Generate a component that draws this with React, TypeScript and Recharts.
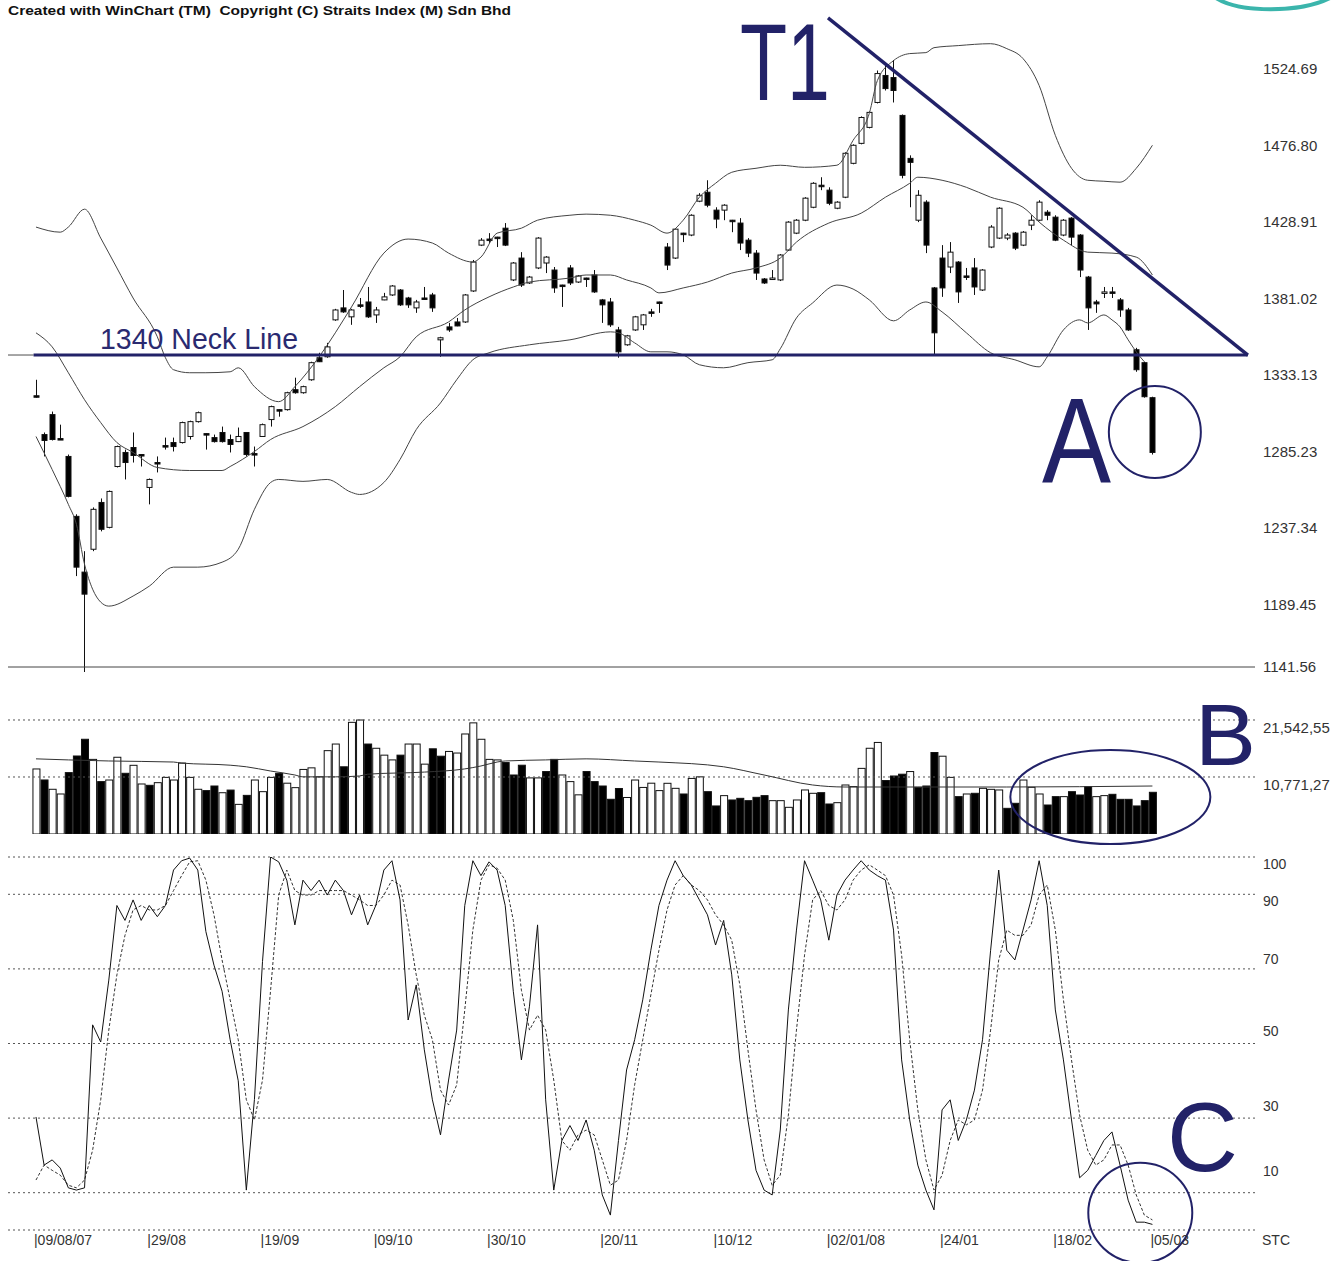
import React from 'react';
import { ComposedChart, Bar, Line, XAxis, YAxis, ReferenceLine, ReferenceDot } from 'recharts';

// ---------- DATA ----------
const opens = [1314.5,1290.2,1302.7,1287.7,1276.5,1239.0,1204.1,1218.4,1247.7,1232.1,1270.2,1279.0,1282.1,1277.7,1257.1,1272.7,1283.3,1285.2,1285.2,1289.0,1298.3,1290.8,1288.3,1291.5,1287.1,1285.8,1291.5,1278.3,1289.0,1299.6,1305.8,1305.8,1318.3,1316.4,1324.5,1338.3,1338.9,1362.0,1369.5,1363.9,1371.4,1373.2,1365.1,1374.5,1377.6,1380.7,1375.7,1369.5,1375.7,1377.6,1349.5,1357.6,1360.7,1360.7,1380.1,1408.8,1412.6,1413.8,1419.4,1387.0,1400.7,1385.1,1394.5,1397.6,1393.2,1383.8,1394.5,1385.7,1388.2,1390.1,1374.5,1373.2,1355.7,1346.4,1355.7,1358.9,1367.0,1373.2,1407.6,1400.7,1416.3,1415.1,1436.3,1441.9,1430.7,1430.7,1424.4,1422.6,1411.9,1403.8,1387.6,1387.6,1387.0,1405.7,1416.3,1424.4,1432.5,1446.3,1443.2,1431.9,1438.8,1460.0,1472.5,1482.5,1498.1,1515.0,1513.7,1490.0,1463.1,1424.4,1435.7,1382.0,1400.7,1395.1,1398.2,1389.5,1394.5,1380.7,1407.6,1413.2,1413.2,1416.3,1408.8,1421.3,1424.4,1429.4,1426.3,1415.1,1425.7,1415.1,1388.8,1373.2,1378.9,1379.5,1374.5,1368.2,1343.3,1335.2,1313.3];
const highs = [1324.5,1291.5,1304.6,1296.4,1277.7,1240.3,1217.2,1244.6,1250.2,1255.2,1283.3,1280.8,1291.5,1277.9,1262.7,1276.5,1288.3,1288.3,1298.3,1298.9,1304.6,1291.0,1290.2,1295.2,1290.2,1294.6,1291.7,1282.7,1297.1,1308.3,1306.0,1317.0,1325.8,1320.8,1335.8,1341.4,1347.6,1368.9,1380.7,1368.9,1375.7,1382.6,1370.1,1378.9,1383.8,1381.3,1376.4,1374.5,1382.6,1378.9,1351.4,1360.1,1363.2,1378.2,1399.5,1413.2,1416.3,1414.0,1422.6,1398.2,1404.4,1389.5,1413.8,1401.9,1395.1,1384.0,1396.3,1390.1,1388.4,1393.2,1375.1,1375.7,1357.6,1352.6,1364.5,1365.7,1368.9,1373.4,1410.1,1419.4,1416.5,1428.1,1441.3,1449.4,1432.5,1434.4,1424.6,1425.7,1413.2,1405.7,1388.2,1393.2,1403.2,1423.8,1425.1,1438.8,1448.2,1451.3,1445.0,1436.3,1466.9,1471.9,1489.4,1492.5,1518.1,1521.2,1524.69,1490.6,1465.0,1443.2,1436.9,1382.6,1408.8,1410.7,1398.8,1394.5,1400.7,1393.8,1421.3,1432.5,1416.3,1416.9,1417.6,1427.5,1436.9,1430.7,1427.5,1425.1,1426.3,1415.7,1389.5,1374.5,1382.6,1382.6,1375.7,1369.5,1344.5,1335.8,1313.9];
const lows = [1313.3,1276.5,1286.5,1286.8,1250.9,1201.6,1141.56,1217.2,1229.6,1231.5,1269.6,1262.1,1272.7,1270.2,1246.5,1266.5,1280.8,1279.6,1284.6,1287.1,1297.7,1280.8,1285.2,1285.2,1279.0,1285.5,1276.5,1270.2,1288.8,1295.2,1301.4,1305.2,1315.8,1315.8,1323.9,1335.6,1338.3,1361.4,1366.4,1358.9,1369.5,1363.2,1360.1,1374.3,1377.0,1370.7,1369.5,1366.4,1374.9,1367.0,1338.9,1354.5,1358.0,1360.1,1379.5,1408.2,1410.1,1407.6,1408.2,1386.3,1382.6,1384.5,1393.8,1391.3,1378.9,1370.1,1383.8,1385.1,1382.6,1378.9,1360.1,1357.6,1338.3,1345.8,1355.1,1355.7,1363.9,1366.4,1393.2,1400.1,1410.7,1414.4,1435.7,1432.5,1419.4,1424.4,1416.9,1405.7,1401.3,1387.0,1384.5,1387.0,1386.3,1405.1,1415.7,1423.8,1431.9,1443.2,1433.8,1431.3,1438.2,1459.4,1471.9,1481.9,1497.5,1505.6,1498.1,1450.6,1432.5,1423.2,1403.8,1340.1,1376.4,1391.3,1372.6,1387.0,1377.6,1380.1,1406.9,1412.6,1411.9,1405.7,1408.2,1418.2,1423.8,1424.4,1411.3,1414.4,1408.8,1388.8,1355.7,1366.4,1375.7,1375.7,1363.9,1355.1,1329.5,1313.3,1277.7];
const closes = [1313.9,1286.5,1287.1,1287.1,1251.5,1207.2,1190.3,1243.4,1230.9,1254.6,1282.7,1272.7,1277.1,1277.1,1262.1,1272.1,1282.7,1282.7,1297.7,1298.3,1303.9,1290.2,1285.8,1285.8,1284.0,1289.0,1277.7,1277.7,1296.4,1307.7,1305.2,1316.4,1316.4,1320.2,1335.2,1335.8,1345.1,1368.2,1367.0,1368.2,1371.0,1363.9,1368.2,1376.4,1383.2,1371.4,1371.4,1373.2,1375.1,1369.5,1350.8,1355.7,1358.2,1377.6,1398.2,1411.9,1411.9,1413.2,1408.8,1397.6,1383.8,1388.8,1413.2,1401.3,1382.0,1383.2,1385.1,1389.5,1387.6,1379.5,1371.4,1358.9,1342.0,1352.0,1363.9,1365.1,1366.4,1372.6,1396.3,1418.8,1415.7,1427.5,1440.0,1433.8,1425.1,1433.8,1423.8,1410.1,1403.8,1391.3,1385.1,1388.2,1402.6,1423.2,1424.4,1438.2,1447.5,1445.7,1435.0,1435.7,1466.3,1471.3,1488.7,1491.9,1516.2,1506.8,1505.6,1452.5,1460.6,1440.0,1408.8,1353.9,1382.0,1404.4,1379.5,1388.8,1382.6,1393.2,1420.1,1431.9,1415.1,1406.9,1416.9,1424.4,1435.7,1427.5,1411.9,1424.4,1413.8,1393.2,1369.5,1372.0,1379.5,1378.9,1368.2,1355.7,1330.8,1313.9,1279.0];

const volumes = [12290,10210,8450,7560,11600,14740,17900,14100,9900,10200,14500,11470,12980,9450,9200,9700,10700,10200,13400,10700,8450,8200,9070,7800,8300,5600,7300,10200,8000,10700,11470,9600,8760,12200,12500,10800,15750,17000,12700,21100,21540,17000,16200,14900,14000,14900,17000,17000,13200,16100,14700,15600,15300,18900,21000,17900,14100,14000,13500,11150,13000,10600,10600,11800,14100,11150,9900,7400,11800,9900,9070,6560,8600,6900,10200,8800,9600,8200,9580,8630,7560,10500,10800,8000,5300,7250,6430,6740,6300,6930,7250,6300,6300,5040,6430,8320,7690,7810,5670,5920,9260,8950,12400,16200,17300,10100,10960,11300,11800,8820,9070,15400,14700,10700,7060,7560,7690,8630,8440,8320,4850,5800,10200,8820,7560,5480,7060,7060,8000,7370,8950,7060,7250,7500,6550,6550,5300,6300,7880];

const stochK = [30.3,17.4,18.8,16.6,11.3,10.7,11.3,55,50.4,67,87,83,88.5,83,87,84,87,96.5,99,99.7,96.5,80,71,64,51,40,10.7,35,72,100,98.7,93.8,81.8,93.8,91,93.8,89.8,93.8,91,84.5,89.8,81.8,87,96.5,99,88.5,56.3,65.7,48.3,34.9,25.5,40.2,53.6,87,99,95,98.7,96.5,87,64,45.6,60,81.8,34.9,10.7,24,28,24,29.5,21.4,9.4,4,24,42.9,51,61.7,75,87,93.8,99,95,92.5,88.5,84.5,76.4,83,68.4,45.6,29.5,16,10.7,9.4,26.8,59,80.4,99,93.8,88.5,77.7,89.8,93.8,96.5,99,96.5,95,93.8,80.4,45.6,29.5,17.4,10.7,5.4,32.2,34.9,24,29.5,37.5,51,75,96.5,75,72.4,80.4,88.5,99,87,59,45.6,29.5,14,16,20,24,26.3,17.4,8,2.1,2.1,1.5];
const stochD = [13.4,17.4,16,14.7,12,11.3,13.4,21.4,34.9,53.6,68.4,79,85.8,87,85.8,85.8,87,91,95,98.7,99,93.8,84.5,72.4,61.7,51,34.9,29.5,40.2,64.3,89.8,96.5,91,89.8,89.8,91,91,91,91,89.8,88.5,87,87,89.8,93.8,92.5,81.8,68.4,57.6,51,37.5,33.5,38.9,59,80.4,93.8,97.9,97,93.8,83,64.3,53.6,57.6,53.6,40.2,24,21.4,25.5,26.8,25.5,18.8,12,13.4,24,38.9,51,63,75,85.8,92.5,95,92.5,91,88.5,84.5,81.8,77.7,65.7,48.3,32.2,18.8,12,14.7,30.8,53.6,73.7,88.5,91,87,85.8,88.5,93.8,96.5,97.9,96.5,95,89.8,73.7,51,32.2,18.8,10.7,14.7,24,29.5,28.2,29.5,37.5,53.6,72.4,80.4,79,79,81.8,89.8,92.5,80.4,61.7,45.6,30.8,21.4,17.4,18.8,22.8,22.8,17.4,9.4,4,2.7];

const upperBand: [number, number][] = [[0,1420.1],[3,1416.9],[4,1420.1],[6,1431.3],[8,1413.2],[10,1394.5],[12,1375.7],[15,1351.4],[16,1338.3],[17,1330.8],[19,1328.9],[21,1328.9],[24,1329.5],[25,1332.0],[27,1320.2],[30,1310.8],[32,1320.2],[35,1338.9],[39,1370.1],[43,1403.8],[46,1412.6],[49,1410.1],[51,1403.8],[54,1398.2],[55,1401.3],[57,1416.3],[60,1419.4],[62,1424.4],[66,1427.5],[68,1428.2],[71,1427.5],[74,1424.4],[76,1421.3],[78,1416.3],[80,1424.4],[82,1438.8],[84,1447.5],[86,1454.4],[89,1456.9],[92,1458.8],[95,1457.5],[99,1458.8],[101,1474.4],[103,1491.2],[104,1511.8],[106,1524.3],[108,1528.7],[110,1529.3],[111,1532.4],[114,1533.7],[118,1534.9],[120,1531.8],[122,1525.6],[124,1508.7],[126,1477.5],[128,1456.9],[130,1449.4],[132,1448.8],[134,1448.2],[136,1456.9],[138,1471.3]];
const midBand: [number, number][] = [[0,1353.9],[2,1345.1],[4,1328.9],[6,1312.0],[8,1297.7],[10,1285.2],[12,1279.0],[15,1269.6],[19,1267.7],[23,1267.7],[24,1270.2],[27,1279.6],[29,1287.1],[33,1295.2],[37,1307.7],[40,1320.2],[43,1332.0],[45,1338.9],[47,1351.4],[51,1360.7],[53,1368.2],[56,1376.4],[59,1382.6],[61,1385.7],[66,1388.2],[68,1390.1],[71,1390.1],[73,1387.0],[76,1382.0],[77,1378.9],[80,1382.0],[83,1385.7],[86,1391.3],[89,1394.5],[92,1400.7],[94,1410.7],[98,1422.6],[102,1428.8],[105,1438.8],[108,1447.5],[109,1451.3],[112,1449.4],[115,1445.0],[118,1438.8],[122,1432.5],[124,1423.2],[127,1411.9],[130,1404.4],[133,1403.8],[136,1401.3],[138,1390.1]];
const lowerBand: [number, number][] = [[0,1289.0],[2,1268.3],[4,1246.5],[5,1234.0],[6,1209.0],[7,1193.4],[8,1185.3],[9,1182.8],[12,1189.1],[14,1195.3],[17,1207.2],[20,1207.2],[23,1210.3],[25,1218.4],[27,1243.4],[29,1260.2],[30,1262.1],[33,1260.9],[36,1262.1],[39,1254.0],[40,1252.7],[43,1260.2],[45,1274.6],[47,1293.3],[50,1310.0],[52,1324.5],[54,1337.0],[56,1341.4],[61,1346.4],[66,1349.5],[71,1354.5],[72,1353.9],[74,1347.6],[76,1342.0],[78,1342.0],[80,1340.1],[82,1333.9],[85,1332.0],[88,1335.2],[91,1337.0],[92,1343.9],[94,1363.2],[96,1372.6],[99,1383.8],[101,1381.3],[103,1374.5],[106,1361.4],[108,1368.2],[110,1373.2],[112,1367.0],[115,1353.9],[118,1341.4],[121,1337.0],[124,1332.6],[125,1338.9],[127,1355.7],[129,1362.0],[130,1360.1],[132,1365.1],[133,1362.0],[134,1357.6],[135,1349.5],[136,1342.0],[137,1335.8]];
const volumeMA: [number, number][] = [[0,14200],[4,14000],[9,13800],[17,13600],[18,13400],[24,13000],[26,12700],[29,11900],[32,11150],[33,10800],[37,10800],[40,10960],[41,11300],[48,11700],[53,12300],[55,12850],[57,13600],[58,13800],[63,14000],[68,14200],[74,13800],[77,13600],[85,12700],[90,11150],[96,9260],[100,8880],[109,8880],[120,8880],[138,9070]];

const dateTickIdx = [0,14,28,42,56,70,84,98,112,126,138];
const dateTickLabels = ['09/08/07','29/08','19/09','09/10','30/10','20/11','10/12','02/01/08','24/01','18/02','05/03'];
const priceTicks = [1141.56,1189.45,1237.34,1285.23,1333.13,1381.02,1428.91,1476.80,1524.69];
const priceTickLabels = ['1141.56','1189.45','1237.34','1285.23','1333.13','1381.02','1428.91','1476.80','1524.69'];
const volTicks = [10771.27,21542.55];
const volTickLabels = ['10,771,27','21,542,55'];
const stochTicks = [10,30,50,70,90,100];
const stochGrid = [0,10,30,50,70,90,100];
const neckLevel = 1340;

// ---------- BUILD ROWS ----------
const upMap = new Map(upperBand);
const midMap = new Map(midBand);
const loMap = new Map(lowerBand);
const maMap = new Map(volumeMA);

const priceRows = opens.map((o, i) => ({
  i, o, h: highs[i], l: lows[i], c: closes[i],
  upper: upMap.has(i) ? upMap.get(i) : null,
  mid: midMap.has(i) ? midMap.get(i) : null,
  lower: loMap.has(i) ? loMap.get(i) : null,
}));
const volRows = volumes.map((v, i) => ({
  i, v, down: i > 0 && closes[i] < closes[i - 1],
  ma: maMap.has(i) ? maMap.get(i) : null,
}));
const stochRows = stochK.map((k, i) => ({ i, k, d: stochD[i] }));

// ---------- STYLE ----------
const X_DOMAIN: [number, number] = [-3.46, 150.68];
const FONT = "'Liberation Sans Narrow', 'Liberation Sans', Arial, sans-serif";
const SANS = "'Liberation Sans', Arial, sans-serif";
const NAVY = '#222268';
const LBL = '#333';

function Candle(props: any) {
  const { x, y, width, height, payload } = props;
  if (x == null || y == null || !payload) return null;
  const top = Math.min(y, y + height);
  const bot = Math.max(y, y + height);
  const { o, h, l, c } = payload;
  const k = (bot - top) / (h - l || 1);
  const yO = top + (h - o) * k;
  const yC = top + (h - c) * k;
  const cx = Math.round(x + width / 2) + 0.5;
  const bTop = Math.min(yO, yC);
  const bH = Math.max(Math.abs(yC - yO), 1.5);
  const down = c < o;
  return (
    <g>
      <line x1={cx} x2={cx} y1={top} y2={bot} stroke="#111" strokeWidth={1} />
      <rect x={cx - 2.5} y={bTop} width={5} height={bH} fill={down ? '#000' : '#fff'} stroke="#111" strokeWidth={1} />
    </g>
  );
}

function VolBar(props: any) {
  const { x, y, width, height, payload } = props;
  if (x == null || y == null || !payload) return null;
  return <rect x={x} y={y} width={width} height={height} fill={payload.down ? '#000' : '#fff'} stroke="#111" strokeWidth={1} />;
}

const PriceTick = (p: any) => {
  const v = p.payload.value;
  const idx = priceTicks.indexOf(v);
  const dy = idx === 0 ? -5 : 9;
  return <text x={p.x} y={p.y + dy} dy="0.35em" textAnchor="start" fontSize={15} fontFamily={FONT} fill={LBL}>{priceTickLabels[idx]}</text>;
};
const VolTick = (p: any) => {
  const idx = volTicks.indexOf(p.payload.value);
  return <text x={p.x} y={p.y + 8} dy="0.35em" textAnchor="start" fontSize={15} fontFamily={FONT} fill={LBL}>{volTickLabels[idx]}</text>;
};
const stochDy: Record<number, number> = { 100: 7, 90: 7, 70: -10, 50: -12, 30: -12, 10: -22 };
const StochTick = (p: any) => {
  const v = p.payload.value;
  return <text x={p.x} y={p.y + (stochDy[v] || 0)} dy="0.35em" textAnchor="start" fontSize={14} fontFamily={FONT} fill={LBL}>{String(v)}</text>;
};
const DateTick = (p: any) => {
  const idx = dateTickIdx.indexOf(p.payload.value);
  return <text x={p.x - 2} y={p.y} dy={15} textAnchor="start" fontSize={14} fontFamily={FONT} fill={LBL}>{'|' + dateTickLabels[idx]}</text>;
};

const ellipseShape = (rx: number, ry: number) => (p: any) =>
  <ellipse cx={p.cx} cy={p.cy} rx={rx} ry={ry} fill="none" stroke={NAVY} strokeWidth={2} />;

export default function App() {
  return (
    <div style={{ position: 'absolute', left: 0, top: 0, width: 1335, height: 1261, background: '#fff', overflow: 'hidden' }}>
      {/* PRICE PANEL */}
      <div style={{ position: 'absolute', left: 0, top: 0 }}>
        <ComposedChart width={1335} height={690} data={priceRows} margin={{ top: 10, right: 0, bottom: 18, left: 8 }}>
          <XAxis type="number" dataKey="i" domain={X_DOMAIN} allowDataOverflow hide />
          <YAxis orientation="right" width={80} domain={[1141.56, 1555.99]} allowDataOverflow ticks={priceTicks} interval={0}
            axisLine={false} tickLine={false} tickSize={6} tickMargin={2} tick={PriceTick} />
          <ReferenceLine y={1144.69} stroke="#444" strokeWidth={1} />
          <Line dataKey="upper" type="monotone" connectNulls stroke="#444" strokeWidth={1} dot={false} activeDot={false} isAnimationActive={false} />
          <Line dataKey="mid" type="monotone" connectNulls stroke="#444" strokeWidth={1} dot={false} activeDot={false} isAnimationActive={false} />
          <Line dataKey="lower" type="monotone" connectNulls stroke="#444" strokeWidth={1} dot={false} activeDot={false} isAnimationActive={false} />
          <Bar dataKey={(d: any) => [d.l, d.h]} barSize={6} shape={Candle} isAnimationActive={false} />
          <ReferenceLine segment={[{ x: -3.46, y: neckLevel }, { x: -0.3, y: neckLevel }]} stroke="#888" strokeWidth={1.5} ifOverflow="visible" />
          <ReferenceLine segment={[{ x: -0.3, y: neckLevel }, { x: 149.8, y: neckLevel }]} stroke={NAVY} strokeWidth={3} ifOverflow="visible" />
          <ReferenceLine segment={[{ x: 97.9, y: 1551 }, { x: 149.8, y: neckLevel }]} stroke={NAVY} strokeWidth={3.5} ifOverflow="visible" />
          <ReferenceDot x={138.3} y={1291.8} r={46} ifOverflow="visible" shape={ellipseShape(46, 46)} />
        </ComposedChart>
      </div>

      {/* VOLUME PANEL */}
      <div style={{ position: 'absolute', left: 0, top: 690 }}>
        <ComposedChart width={1335} height={160} data={volRows} margin={{ top: 10, right: 0, bottom: 16, left: 8 }}>
          <XAxis type="number" dataKey="i" domain={X_DOMAIN} allowDataOverflow hide />
          <YAxis orientation="right" width={80} domain={[0, 25321]} allowDataOverflow ticks={volTicks} interval={0}
            axisLine={false} tickLine={false} tickSize={6} tickMargin={2} tick={VolTick} />
          {volTicks.map((t) => (
            <ReferenceLine key={t} y={t} stroke="#555" strokeDasharray="2 3" strokeWidth={1} />
          ))}
          <Bar dataKey="v" barSize={7} shape={VolBar} isAnimationActive={false} />
          <Line dataKey="ma" type="monotone" connectNulls stroke="#333" strokeWidth={1} dot={false} activeDot={false} isAnimationActive={false} />
          <ReferenceDot x={132.8} y={6992} r={48} ifOverflow="visible" shape={ellipseShape(100, 47)} />
        </ComposedChart>
      </div>

      {/* STOCHASTIC PANEL */}
      <div style={{ position: 'absolute', left: 0, top: 845 }}>
        <ComposedChart width={1335} height={416} data={stochRows} margin={{ top: 12, right: 0, bottom: 11, left: 8 }}>
          <XAxis type="number" dataKey="i" domain={X_DOMAIN} allowDataOverflow ticks={dateTickIdx} interval={0}
            axisLine={false} tickLine={false} tickSize={0} tickMargin={0} height={20} tick={DateTick} />
          <YAxis orientation="right" width={80} domain={[0, 100]} allowDataOverflow ticks={stochTicks} interval={0}
            axisLine={false} tickLine={false} tickSize={6} tickMargin={2} tick={StochTick} />
          {stochGrid.map((t) => (
            <ReferenceLine key={t} y={t} stroke="#555" strokeDasharray="2 3" strokeWidth={1} />
          ))}
          <Line dataKey="d" type="linear" stroke="#333" strokeDasharray="3 2" strokeWidth={1} dot={false} activeDot={false} isAnimationActive={false} />
          <Line dataKey="k" type="linear" stroke="#111" strokeWidth={1} dot={false} activeDot={false} isAnimationActive={false} />
          <ReferenceDot x={136.5} y={4.6} r={50} ifOverflow="visible" shape={ellipseShape(52, 50)} />
        </ComposedChart>
      </div>

      {/* ANNOTATION TEXT */}
      <svg width={1335} height={1261} style={{ position: 'absolute', left: 0, top: 0, pointerEvents: 'none' }}>
        <text x={8} y={15} fontSize={13} fontWeight="bold" fontFamily={SANS} fill="#111" textLength={503} lengthAdjust="spacingAndGlyphs" style={{ whiteSpace: 'pre' }}>
          {'Created with WinChart (TM)  Copyright (C) Straits Index (M) Sdn Bhd'}
        </text>
        <path d="M1216,-2 C1240,13 1300,13 1330,-2" fill="none" stroke="#3bb5ac" strokeWidth={4} />
        <text x={740} y={100} fontSize={110} fontFamily={SANS} fill={NAVY} textLength={90} lengthAdjust="spacingAndGlyphs">T1</text>
        <text x={100} y={349} fontSize={29} fontFamily={SANS} fill="#2a2a70" textLength={198} lengthAdjust="spacingAndGlyphs">1340 Neck Line</text>
        <text x={1042} y={482} fontSize={120} fontFamily={SANS} fill={NAVY} textLength={69} lengthAdjust="spacingAndGlyphs">A</text>
        <text x={1195} y={765} fontSize={87} fontFamily={SANS} fill={NAVY} textLength={61} lengthAdjust="spacingAndGlyphs">B</text>
        <text x={1167} y={1171} fontSize={98} fontFamily={SANS} fill={NAVY} textLength={71} lengthAdjust="spacingAndGlyphs">C</text>
        <text x={1262} y={1245} fontSize={14} fontFamily={FONT} fill={LBL}>STC</text>
      </svg>
    </div>
  );
}
